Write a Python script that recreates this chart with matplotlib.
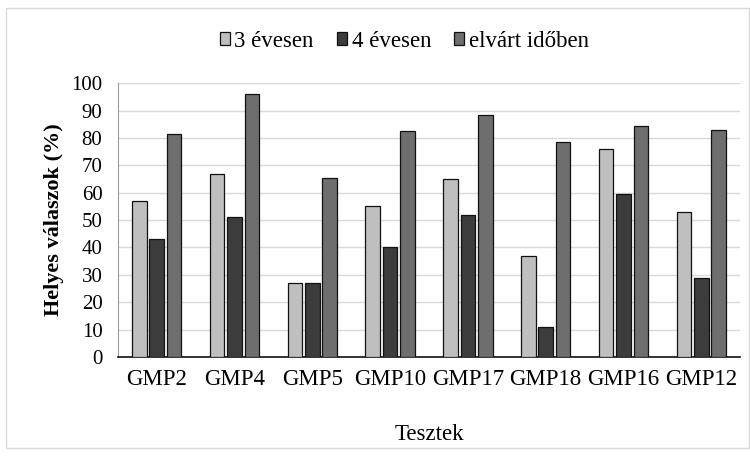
import matplotlib.pyplot as plt
import numpy as np
from matplotlib.patches import Rectangle

# Values
tests = ['GMP2', 'GMP4', 'GMP5', 'GMP10', 'GMP17', 'GMP18', 'GMP16', 'GMP12']
age3 = [57, 67, 27, 55, 65, 37, 76, 53]
age4 = [43, 51, 27, 40, 52, 11, 59.5, 29]
expected = [81.5, 96, 65.5, 82.5, 88.5, 78.5, 84.5, 83]
series_names = ['3 évesen', '4 évesen', 'elvárt időben']
colors = ['#bfbfbf', '#3c3c3c', '#6e6e6e']

plt.rcParams['font.family'] = ['Liberation Serif', 'DejaVu Serif']

fig = plt.figure(figsize=(7.5, 4.57), dpi=100)
ax = fig.add_axes([0.157, 0.219, 0.83, 0.599])

x = np.arange(len(tests))
w = 0.188
step = 0.223
for i, (vals, name, c) in enumerate(zip([age3, age4, expected], series_names, colors)):
    ax.bar(x + (i - 1) * step, vals, width=w, color=c, edgecolor='#111111',
           linewidth=0.9, label=name, zorder=3)

ax.set_xlim(-0.5, len(tests) - 0.5)
ax.set_ylim(0, 100)
ax.set_yticks(range(0, 101, 10))
ax.set_xticks(x)
ax.set_xticklabels(tests, fontsize=16.5)
ax.tick_params(axis='y', labelsize=15, length=0, pad=11)
ax.tick_params(axis='x', length=0, pad=9)
ax.grid(axis='y', color='#d9d9d9', linewidth=1, zorder=0)
for s in ['top', 'right']:
    ax.spines[s].set_visible(False)
ax.spines['left'].set_color('#9a9a9a')
ax.spines['bottom'].set_color('#111111')
ax.spines['bottom'].set_linewidth(1.2)

ax.set_xlabel('Tesztek', fontsize=16.5, labelpad=24)
ax.set_ylabel('Helyes válaszok (%)', fontsize=16, fontweight='bold', labelpad=5)

fig.legend(loc='center', bbox_to_anchor=(0.539, 0.91), ncol=3, frameon=False,
           fontsize=16.5, handlelength=0.45, handleheight=0.45, handletextpad=0.2,
           columnspacing=1.0)

fig.patches.append(Rectangle((0.008, 0.02), 0.99, 0.962, transform=fig.transFigure,
                             fill=False, edgecolor='#d9d9d9', linewidth=1))

fig.savefig('out.png', dpi=100)
